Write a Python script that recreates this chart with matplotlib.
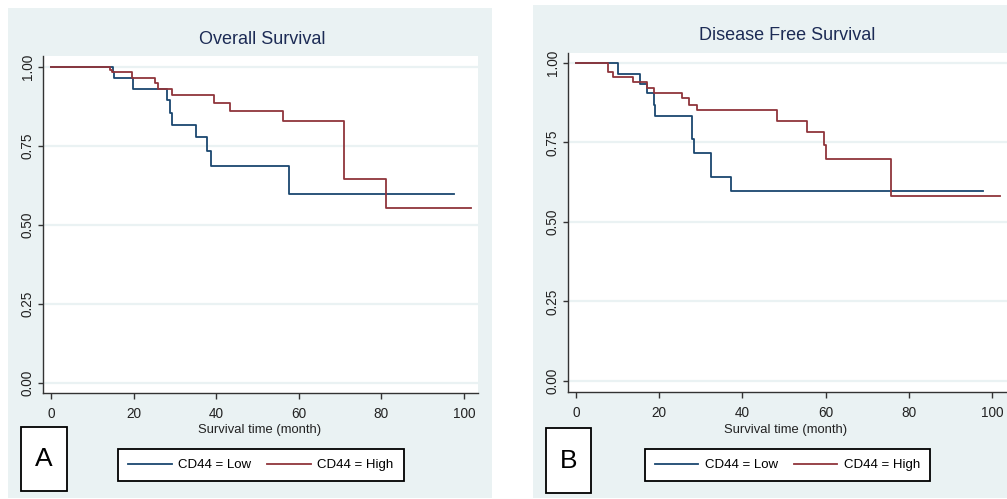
import matplotlib
matplotlib.use("Agg")
import matplotlib.pyplot as plt
from matplotlib.patches import Rectangle

plt.rcParams['font.family'] = ['Liberation Sans', 'DejaVu Sans']

# ---- data ----
os_low_t = [0, 15.1, 15.3, 19.9, 28.0, 28.8, 29.2, 35.0, 37.7, 38.7, 57.6, 97.7]
os_low_s = [1.0, 0.985, 0.966, 0.932, 0.897, 0.855, 0.818, 0.779, 0.735, 0.687, 0.597, 0.597]
os_high_t = [0, 14.3, 14.8, 19.5, 25.3, 26.0, 29.2, 39.5, 43.3, 56.1, 70.9, 81.2, 101.7]
os_high_s = [1.0, 0.99, 0.983, 0.966, 0.950, 0.932, 0.911, 0.885, 0.862, 0.828, 0.647, 0.554, 0.554]

dfs_low_t = [0, 10.2, 15.4, 17.1, 18.75, 19.0, 27.9, 28.4, 32.4, 37.2, 97.8]
dfs_low_s = [1.0, 0.965, 0.934, 0.905, 0.868, 0.833, 0.760, 0.718, 0.641, 0.597, 0.597]
dfs_high_t = [0, 7.8, 9.0, 13.8, 17.0, 18.75, 25.6, 27.2, 29.2, 48.4, 55.6, 59.7, 60.0, 75.7, 101.8]
dfs_high_s = [1.0, 0.972, 0.955, 0.939, 0.922, 0.906, 0.889, 0.868, 0.851, 0.818, 0.784, 0.742, 0.697, 0.582, 0.582]

x_ticks = [0, 20, 40, 60, 80, 100]
y_ticks = [0.00, 0.25, 0.50, 0.75, 1.00]
y_tick_labels = ["0.00", "0.25", "0.50", "0.75", "1.00"]
series_labels = ["CD44 = Low", "CD44 = High"]
titles = ["Overall Survival", "Disease Free Survival"]
panel_letters = ["A", "B"]
xlabel = "Survival time (month)"

# ---- style ----
W, H = 1007, 499
BG = "#eaf2f3"
BLUE = "#1a476f"
RED = "#90353b"
TITLE_C = "#1c2b55"
TXT = "#222222"

fig = plt.figure(figsize=(W / 100, H / 100), dpi=100)
fig.patch.set_facecolor("white")


def fx(px):
    return px / W


def fy(py):
    return 1 - py / H


def rect_px(x0, y0, x1, y1, **kw):
    r = Rectangle((fx(x0), fy(y1)), (x1 - x0) / W, (y1 - y0) / H,
                  transform=fig.transFigure, **kw)
    fig.add_artist(r)
    return r


panels = [
    dict(bg=(8, 8, 492, 498), ax=(43, 56, 478, 393), xlim=(-1.94, 103.4), ylim=(-0.032, 1.035),
         title_xy=(262, 39), xlabel_xy=(260, 430), letter_box=(21, 427, 67, 491),
         leg_box=(122, 449, 400, 481),
         data=[(os_low_t, os_low_s, BLUE), (os_high_t, os_high_s, RED)]),
    dict(bg=(533, 5, 1007, 498), ax=(568, 53, 1007, 392), xlim=(-1.92, 103.6), ylim=(-0.035, 1.031),
         title_xy=(787, 36), xlabel_xy=(786, 430), letter_box=(546, 428, 591, 493),
         leg_box=(648, 449, 927, 481),
         data=[(dfs_low_t, dfs_low_s, BLUE), (dfs_high_t, dfs_high_s, RED)]),
]

for i, p in enumerate(panels):
    x0, y0, x1, y1 = p["bg"]
    rect_px(x0, y0, x1, y1, facecolor=BG, edgecolor="none", zorder=0)

    ax0, ay0, ax1, ay1 = p["ax"]
    ax = fig.add_axes([fx(ax0), fy(ay1), (ax1 - ax0) / W, (ay1 - ay0) / H])
    ax.set_facecolor("white")
    handles = []
    for (t, s, c), lab in zip(p["data"], series_labels):
        h, = ax.step(t, s, where="post", color=c, lw=1.3, label=lab, zorder=3)
        handles.append(h)
    ax.set_xlim(*p["xlim"])
    ax.set_ylim(*p["ylim"])
    ax.set_xticks(x_ticks)
    ax.set_yticks(y_ticks)
    ax.set_yticklabels(y_tick_labels, rotation=90, va="center")
    for yv in y_ticks:
        ax.axhline(yv, color=BG, lw=1.6, zorder=1)
    for side in ["top", "right"]:
        ax.spines[side].set_visible(False)
    for side in ["left", "bottom"]:
        ax.spines[side].set_color("#333333")
        ax.spines[side].set_linewidth(1.0)
    ax.tick_params(axis="x", length=4, width=1, colors="#333333", pad=6,
                   labelsize=9.8, labelcolor=TXT)
    ax.tick_params(axis="y", length=3.5, width=1, colors="#333333", pad=2.5,
                   labelsize=9.8, labelcolor=TXT)

    tx, ty = p["title_xy"]
    fig.text(fx(tx), fy(ty), titles[i], ha="center", va="center", fontsize=13, color=TITLE_C)
    lx, ly = p["xlabel_xy"]
    fig.text(fx(lx), fy(ly), xlabel, ha="center", va="center", fontsize=9.4, color=TXT)

    bx0, by0, bx1, by1 = p["letter_box"]
    rect_px(bx0, by0, bx1, by1, facecolor="white", edgecolor="black", lw=1.3, zorder=2)
    fig.text(fx((bx0 + bx1) / 2), fy((by0 + by1) / 2), panel_letters[i], ha="center", va="center",
             fontsize=19, color="black")

    gx0, gy0, gx1, gy1 = p["leg_box"]
    leg = fig.legend(handles=handles, labels=series_labels, ncol=2, loc="center",
                     bbox_to_anchor=(fx((gx0 + gx1) / 2), fy((gy0 + gy1) / 2)),
                     frameon=True, fancybox=False, edgecolor="black", facecolor="white",
                     framealpha=1, fontsize=9.5, handlelength=3.3, handletextpad=0.5,
                     columnspacing=1.2, borderpad=0.75, borderaxespad=0)
    leg.get_frame().set_linewidth(1.3)

fig.savefig("out.png", dpi=100, facecolor="white")
